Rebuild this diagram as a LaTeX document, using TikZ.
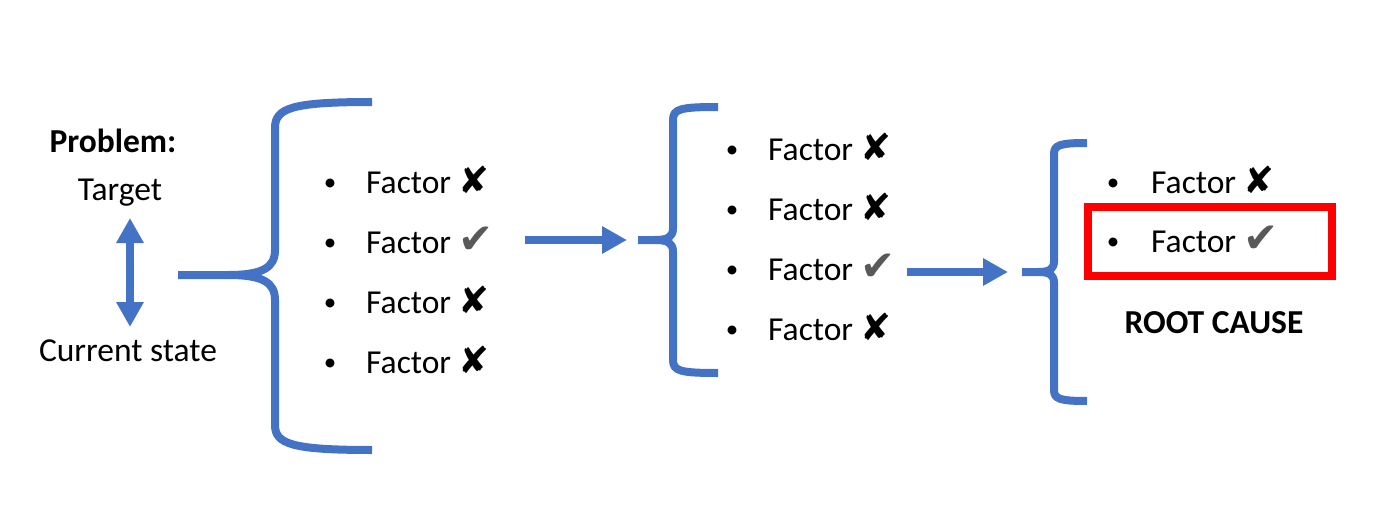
\documentclass[tikz,border=0pt]{standalone}
\usepackage{fontspec}
\setmainfont{Carlito}
\newfontfamily\symfont{DejaVu Sans}
\usetikzlibrary{arrows.meta}
\definecolor{bblue}{HTML}{4472C4}
\definecolor{chkgray}{HTML}{595959}
\newcommand{\xmk}{{\symfont\fontsize{37}{40}\selectfont ✘}}
\newcommand{\cmk}{{\symfont\fontsize{42}{44}\selectfont\color{chkgray}✔}}
\begin{document}
\begin{tikzpicture}[x=1pt,y=-1pt,
  brace/.style={draw=bblue, line width=8pt, line cap=butt, line join=round},
  bigarrow/.style={draw=bblue, line width=8pt, -{Triangle[length=25pt,width=26pt]}},
  dblarrow/.style={draw=bblue, line width=8pt, {Triangle[length=25pt,width=26pt]}-{Triangle[length=25pt,width=26pt]}},
  txt/.style={anchor=base, inner sep=0pt, font=\fontsize{33.5}{38}\selectfont},
  item/.style={anchor=base west, inner sep=0pt, font=\fontsize{33.5}{38}\selectfont},
  bul/.style={anchor=base, inner sep=0pt, font=\fontsize{25}{30}\selectfont},
  redbox/.style={draw=red, line width=8pt, minimum width=244pt, minimum height=69pt, inner sep=0pt}
]
\useasboundingbox (0,0) rectangle (1385,511);

% left labels
\node[txt, font=\fontsize{33.5}{38}\selectfont\bfseries] (prob) at (113,152) {Problem:};
\node[txt] (target) at (120,200) {Target};
\node[txt] (current) at (128,361) {Current state};
\coordinate (ua) at (130,218);
\coordinate (da) at (130,327);
\draw[dblarrow] (ua) -- (da);

% brace 1
\draw[brace] (178,275) -- (228,275) .. controls (262,275) and (275,268) .. (275,250) -- (275,128) .. controls (275,108) and (292,102) .. (372,102);
\draw[brace] (228,275) .. controls (262,275) and (275,282) .. (275,300) -- (275,425) .. controls (275,444) and (292,450) .. (372,450);

% list 1
\foreach \y/\n in {190/1,250/2,310/3,370/4} {\node[bul] (b1\n) at (330,\y) {•};}
\node[item] (f11) at (366,193) {Factor \xmk};
\node[item] (f12) at (366,253) {Factor \cmk};
\node[item] (f13) at (366,313) {Factor \xmk};
\node[item] (f14) at (366,373) {Factor \xmk};

% arrow 1
\coordinate (a1s) at (525,240);
\coordinate (a1e) at (627,240);
\draw[bigarrow] (a1s) -- (a1e);

% brace 2
\draw[brace] (638,240) -- (655,240) .. controls (668,240) and (673,237) .. (673,228) -- (673,120) .. controls (673,109) and (680,107) .. (718,107);
\draw[brace] (655,240) .. controls (668,240) and (673,243) .. (673,252) -- (673,360) .. controls (673,371) and (680,373) .. (718,373);

% list 2
\foreach \y/\n in {157/1,217/2,277/3,337/4} {\node[bul] (b2\n) at (732,\y) {•};}
\node[item] (f21) at (768,160) {Factor \xmk};
\node[item] (f22) at (768,220) {Factor \xmk};
\node[item] (f23) at (768,280) {Factor \cmk};
\node[item] (f24) at (768,340) {Factor \xmk};

% arrow 2
\coordinate (a2s) at (907,272);
\coordinate (a2e) at (1008,272);
\draw[bigarrow] (a2s) -- (a2e);

% brace 3
\draw[brace] (1022,272) -- (1038,272) .. controls (1050,272) and (1054,269) .. (1054,261) -- (1054,154) .. controls (1054,145) and (1060,143) .. (1087,143);
\draw[brace] (1038,272) .. controls (1050,272) and (1054,275) .. (1054,283) -- (1054,390) .. controls (1054,399) and (1060,401) .. (1087,401);

% list 3
\node[bul] (b31) at (1113,190) {•};
\node[bul] (b32) at (1113,249) {•};
\node[item] (f31) at (1151,193) {Factor \xmk};
\node[item] (f32) at (1151,252) {Factor \cmk};
\node[redbox] (rootbox) at (1210,241.5) {};
\node[txt, font=\fontsize{33.5}{38}\selectfont\bfseries] (root) at (1214,333) {ROOT CAUSE};
\end{tikzpicture}
\end{document}
